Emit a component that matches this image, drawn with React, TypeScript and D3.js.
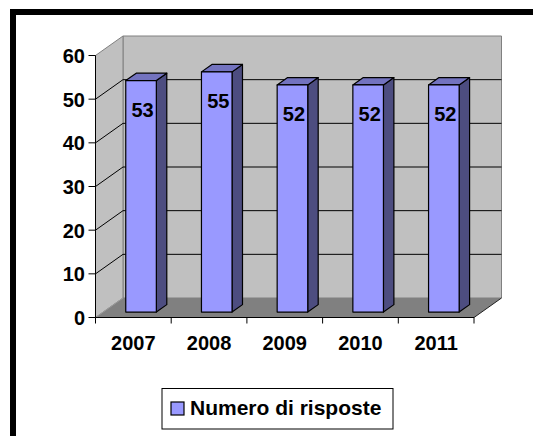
import React from 'react';
import * as d3 from 'd3';

const years = ['2007', '2008', '2009', '2010', '2011'];
const risposte = [53, 55, 52, 52, 52];
const yTicks = [0, 10, 20, 30, 40, 50, 60];
const seriesName = 'Numero di risposte';

const FONT = "'Liberation Sans', Arial, sans-serif";

export default function App() {
  const W = 533, H = 436;
  const x = d3.scaleBand<string>().domain(years).range([95.5, 474]);
  const y = d3.scaleLinear().domain([0, 60]).range([317.5, 55.5]);
  const DX = 27.5, DY = -19.5;
  const f0 = 0.28, f1 = 0.66;
  const ddx = DX * (f1 - f0), ddy = DY * (f1 - f0);
  const x0 = 95.5, x1 = 474;
  const yb = y(0), yt = y(60);
  const pts = (a: number[][]) => a.map(p => p.join(',')).join(' ');

  return (
    <svg width={W} height={H} style={{ position: 'absolute', left: 0, top: 0, background: '#fff' }}>
      <rect x={13} y={12} width={540} height={440} fill="#fff" stroke="#000" strokeWidth={6} />
      {/* back wall */}
      <polygon points={pts([[x0 + DX, yt + DY], [x1 + DX, yt + DY], [x1 + DX, yb + DY], [x0 + DX, yb + DY]])}
        fill="#C0C0C0" stroke="#808080" strokeWidth={1} />
      {/* left wall */}
      <polygon points={pts([[x0, yt], [x0 + DX, yt + DY], [x0 + DX, yb + DY], [x0, yb]])}
        fill="#C0C0C0" stroke="#808080" strokeWidth={1} />
      {/* floor */}
      <polygon points={pts([[x0, yb], [x0 + DX, yb + DY], [x1 + DX, yb + DY], [x1, yb]])}
        fill="#808080" stroke="none" />
      <line x1={x1} y1={yb} x2={x1 + DX} y2={yb + DY} stroke="#222" strokeWidth={1} />
      <line x1={x0} y1={yb} x2={x0 + DX} y2={yb + DY} stroke="#999" strokeWidth={1} />
      {/* gridlines */}
      {yTicks.filter(t => t > 0 && t < 60).map(t => (
        <g key={t}>
          <line x1={x0} y1={y(t)} x2={x0 + DX} y2={y(t) + DY} stroke="#000" strokeWidth={1} />
          <line x1={x0 + DX} y1={y(t) + DY} x2={x1 + DX} y2={y(t) + DY} stroke="#000" strokeWidth={1} />
        </g>
      ))}
      {/* axes */}
      <line x1={x0} y1={yt} x2={x0} y2={yb} stroke="#000" strokeWidth={1} />
      <line x1={x0} y1={yb} x2={x1} y2={yb} stroke="#000" strokeWidth={1} />
      {yTicks.map(t => (
        <g key={t}>
          <line x1={x0 - 7} y1={y(t)} x2={x0} y2={y(t)} stroke="#000" strokeWidth={1} />
          <text x={85} y={y(t) + 7.5} textAnchor="end" fontFamily={FONT} fontWeight="bold" fontSize={20}>{t}</text>
        </g>
      ))}
      {[...years.map(c => x(c) as number), x1].map((v, i) => (
        <line key={i} x1={v} y1={yb} x2={v} y2={yb + 6} stroke="#000" strokeWidth={1} />
      ))}
      {years.map(c => (
        <text key={c} x={(x(c) as number) + x.bandwidth() / 2} y={349.5} textAnchor="middle"
          fontFamily={FONT} fontWeight="bold" fontSize={20}>{c}</text>
      ))}
      {/* bars */}
      {years.map((c, i) => {
        const bw = x.bandwidth();
        const w = bw * 0.404;
        const fl = (x(c) as number) + (bw - w) / 2 + DX * f0;
        const bot = yb + DY * f0;
        const top = y(risposte[i]) + DY * f0;
        return (
          <g key={c} stroke="#000" strokeWidth={1.2} strokeLinejoin="round">
            <polygon points={pts([[fl + w, top], [fl + w + ddx, top + ddy], [fl + w + ddx, bot + ddy], [fl + w, bot]])} fill="#4D4D80" />
            <polygon points={pts([[fl, top], [fl + ddx, top + ddy], [fl + w + ddx, top + ddy], [fl + w, top]])} fill="#7373BF" />
            <rect x={fl} y={top} width={w} height={bot - top} fill="#9999FF" />
            <text x={fl + w / 2 + 1.5} y={top + 36.5} textAnchor="middle" stroke="none" fill="#000"
              fontFamily={FONT} fontWeight="bold" fontSize={20}>{risposte[i]}</text>
          </g>
        );
      })}
      {/* legend */}
      <rect x={162} y={388.5} width={231} height={40.5} fill="#fff" stroke="#000" strokeWidth={1} />
      <rect x={171} y={402} width={13} height={13} fill="#9999FF" stroke="#000" strokeWidth={1.2} />
      <text x={190} y={415} fontFamily={FONT} fontWeight="bold" fontSize={21}>{seriesName}</text>
    </svg>
  );
}
